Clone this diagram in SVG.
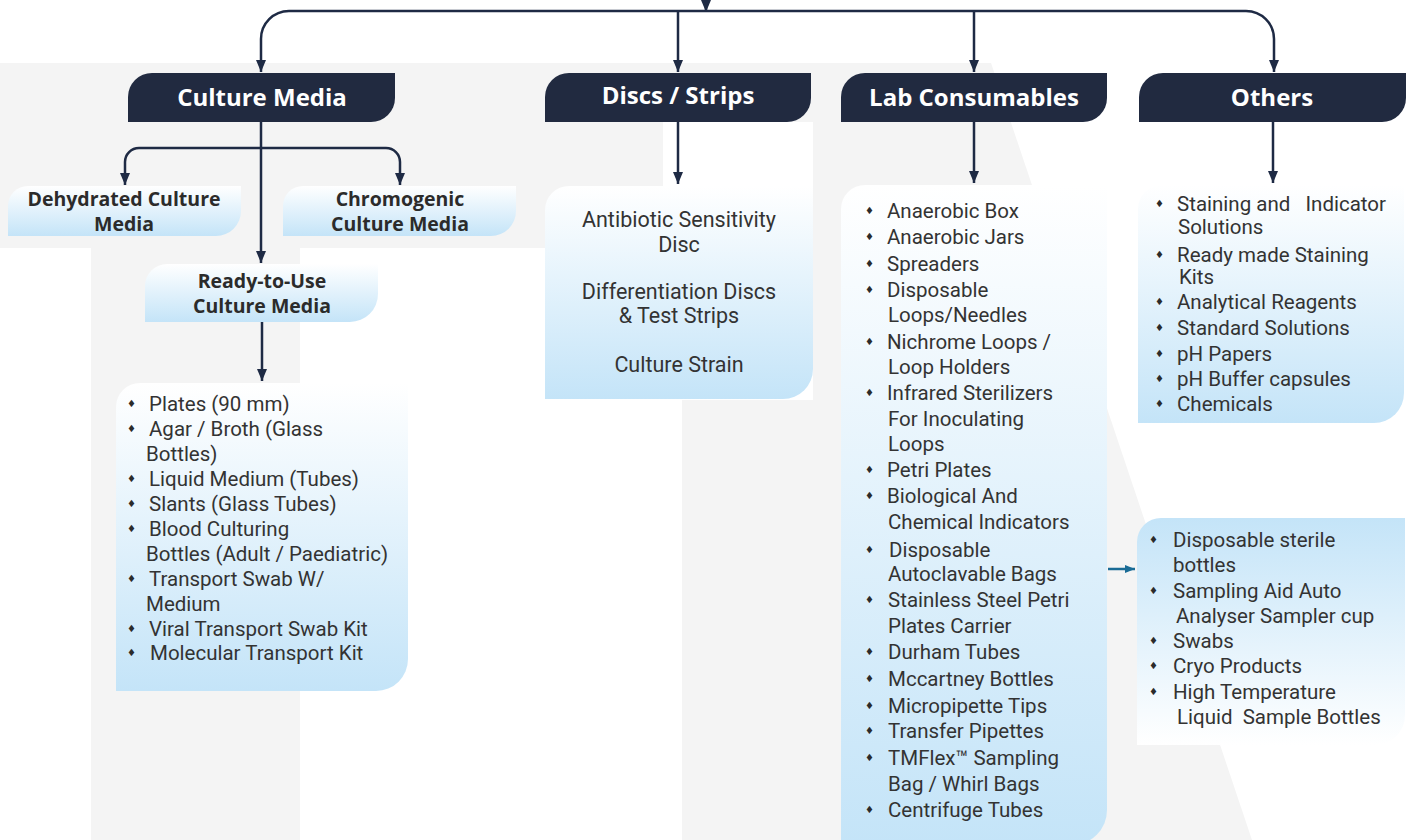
<svg xmlns="http://www.w3.org/2000/svg" width="1411" height="840" viewBox="0 0 1411 840">
<style>
.bg{fill:#f4f4f4}
.hdr{fill:#212a40}
.box{fill:url(#gDown)}
.boxr{fill:url(#gUp)}
.hd{font-family:"Open Sans","Liberation Sans",sans-serif;font-weight:700;font-size:24px;fill:#fff;text-anchor:middle}
.st{font-family:"Open Sans","Liberation Sans",sans-serif;font-weight:700;font-size:19.5px;fill:#2b2b2b;text-anchor:middle}
.li{font-family:Roboto,"Liberation Sans",sans-serif;font-size:20.5px;fill:#333;white-space:pre}
.ct{font-family:Roboto,"Liberation Sans",sans-serif;font-size:21.5px;fill:#333;text-anchor:middle}
.bu{font-family:"DejaVu Sans",sans-serif;font-size:10px;fill:#2b2b2b}
.con{fill:none;stroke:#1e2a44;stroke-width:2.5;marker-end:url(#ah)}
.conb{fill:none;stroke:#1a6b95;stroke-width:2.5;marker-end:url(#ahb)}
</style>
<defs>
<linearGradient id="gDown" x1="0" y1="0" x2="0" y2="1">
<stop offset="0" stop-color="#ffffff"/>
<stop offset="1" stop-color="#c4e4f8"/>
</linearGradient>
<linearGradient id="gUp" x1="0" y1="0" x2="0" y2="1">
<stop offset="0" stop-color="#c4e4f8"/>
<stop offset="1" stop-color="#ffffff"/>
</linearGradient>
<marker id="ah" viewBox="0 0 12 10" refX="12" refY="5" markerWidth="12" markerHeight="10" markerUnits="userSpaceOnUse" orient="auto">
<path d="M0,0 L12,5 L0,10 Z" fill="#1e2a44"/>
</marker>
<marker id="ahb" viewBox="0 0 10 8" refX="10" refY="4" markerWidth="10" markerHeight="8" markerUnits="userSpaceOnUse" orient="auto">
<path d="M0,0 L10,4 L0,8 Z" fill="#1a6b95"/>
</marker>
</defs>

<g id="background">
<path class="bg" d="M0,63 H663 V248 H300 V840 H91 V248 H0 Z"/>
<path class="bg" d="M663,63 H991 L1252,840 H682 V400 H813 V122 H663 Z"/>
</g>

<g id="connectors">
<path class="con" d="M706,-6 V12"/>
<path class="con" d="M706,11 H289 A28,28 0 0 0 261,39 V72"/>
<path class="con" d="M706,11 H1246 A28,28 0 0 1 1274,39 V72"/>
<path class="con" d="M678,11 V72"/>
<path class="con" d="M974,11 V72"/>
<path class="con" d="M261,122 V263"/>
<path class="con" d="M261,148 H139 A14,14 0 0 0 125,162 V185"/>
<path class="con" d="M261,148 H386 A14,14 0 0 1 400,162 V185"/>
<path class="con" d="M262,322 V381"/>
<path class="con" d="M678,122 V184"/>
<path class="con" d="M974,122 V183"/>
<path class="con" d="M1273,122 V183"/>
<path class="conb" d="M1108,569 H1135"/>
</g>

<g id="culture-media">
<path class="hdr" d="M128,122 V97 A24,24 0 0 1 152,73 H395 V98 A24,24 0 0 1 371,122 Z"/>
<text class="hd" x="262" y="106">Culture Media</text>
</g>

<g id="discs-strips">
<path class="hdr" d="M545,122 V97 A24,24 0 0 1 569,73 H811 V98 A24,24 0 0 1 787,122 Z"/>
<text class="hd" x="678" y="104">Discs / Strips</text>
</g>

<g id="lab-consumables">
<path class="hdr" d="M841,122 V97 A24,24 0 0 1 865,73 H1107 V98 A24,24 0 0 1 1083,122 Z"/>
<text class="hd" x="974" y="106">Lab Consumables</text>
</g>

<g id="others">
<path class="hdr" d="M1139,122 V97 A24,24 0 0 1 1163,73 H1406 V98 A24,24 0 0 1 1382,122 Z"/>
<text class="hd" x="1272" y="106">Others</text>
</g>

<g id="dehydrated">
<path class="box" d="M8,236 V206 A20,20 0 0 1 28,186 H241 V211 A25,25 0 0 1 216,236 Z"/>
<text class="st" x="124" y="206">Dehydrated Culture</text>
<text class="st" x="124" y="231">Media</text>
</g>

<g id="chromogenic">
<path class="box" d="M283,236 V206 A20,20 0 0 1 303,186 H516 V211 A25,25 0 0 1 491,236 Z"/>
<text class="st" x="400" y="206">Chromogenic</text>
<text class="st" x="400" y="231">Culture Media</text>
</g>

<g id="ready-to-use">
<path class="box" d="M145,322 V286 A22,22 0 0 1 167,264 H378 V294 A28,28 0 0 1 350,322 Z"/>
<text class="st" x="262" y="288">Ready-to-Use</text>
<text class="st" x="262" y="313">Culture Media</text>
</g>

<g id="rtu-list">
<path class="box" d="M116,691 V407 A24,24 0 0 1 140,383 H408 V659 A32,32 0 0 1 376,691 Z"/>
<text class="bu" x="127" y="407">♦</text><text class="li" x="149" y="411">Plates (90 mm)</text>
<text class="bu" x="127" y="432">♦</text><text class="li" x="149" y="436">Agar / Broth (Glass</text>
<text class="li" x="146" y="461">Bottles)</text>
<text class="bu" x="127" y="482">♦</text><text class="li" x="149" y="486">Liquid Medium (Tubes)</text>
<text class="bu" x="127" y="507">♦</text><text class="li" x="149" y="511">Slants (Glass Tubes)</text>
<text class="bu" x="127" y="532">♦</text><text class="li" x="149" y="536">Blood Culturing</text>
<text class="li" x="146" y="561">Bottles (Adult / Paediatric)</text>
<text class="bu" x="127" y="582">♦</text><text class="li" x="149" y="586">Transport Swab W/</text>
<text class="li" x="146" y="611">Medium</text>
<text class="bu" x="127" y="632">♦</text><text class="li" x="149" y="636">Viral Transport Swab Kit</text>
<text class="bu" x="127" y="656">♦</text><text class="li" x="150" y="660">Molecular Transport Kit</text>
</g>

<g id="discs-list">
<path class="box" d="M545,399 V210 A24,24 0 0 1 569,186 H813 V369 A30,30 0 0 1 783,399 Z"/>
<text class="ct" x="679" y="227">Antibiotic Sensitivity</text>
<text class="ct" x="679" y="252">Disc</text>
<text class="ct" x="679" y="299">Differentiation Discs</text>
<text class="ct" x="679" y="323">&amp; Test Strips</text>
<text class="ct" x="679" y="372">Culture Strain</text>
</g>

<g id="lab-list">
<path class="box" d="M841,845 V209 A24,24 0 0 1 865,185 H1107 V810 A35,35 0 0 1 1072,845 Z"/>
<text class="bu" x="865" y="214">♦</text><text class="li" x="887" y="218">Anaerobic Box</text>
<text class="bu" x="865" y="240">♦</text><text class="li" x="887" y="244">Anaerobic Jars</text>
<text class="bu" x="865" y="267">♦</text><text class="li" x="887" y="271">Spreaders</text>
<text class="bu" x="865" y="293">♦</text><text class="li" x="887" y="297">Disposable</text>
<text class="li" x="888" y="322">Loops/Needles</text>
<text class="bu" x="865" y="345">♦</text><text class="li" x="887" y="349">Nichrome Loops /</text>
<text class="li" x="888" y="374">Loop Holders</text>
<text class="bu" x="865" y="396">♦</text><text class="li" x="887" y="400">Infrared Sterilizers</text>
<text class="li" x="888" y="426">For Inoculating</text>
<text class="li" x="888" y="451">Loops</text>
<text class="bu" x="865" y="473">♦</text><text class="li" x="887" y="477">Petri Plates</text>
<text class="bu" x="865" y="499">♦</text><text class="li" x="887" y="503">Biological And</text>
<text class="li" x="888" y="529">Chemical Indicators</text>
<text class="bu" x="865" y="553">♦</text><text class="li" x="889" y="557">Disposable</text>
<text class="li" x="888" y="581">Autoclavable Bags</text>
<text class="bu" x="865" y="603">♦</text><text class="li" x="888" y="607">Stainless Steel Petri</text>
<text class="li" x="888" y="633">Plates Carrier</text>
<text class="bu" x="865" y="655">♦</text><text class="li" x="888" y="659">Durham Tubes</text>
<text class="bu" x="865" y="682">♦</text><text class="li" x="888" y="686">Mccartney Bottles</text>
<text class="bu" x="865" y="709">♦</text><text class="li" x="888" y="713">Micropipette Tips</text>
<text class="bu" x="865" y="734">♦</text><text class="li" x="888" y="738">Transfer Pipettes</text>
<text class="bu" x="865" y="761">♦</text><text class="li" x="888" y="765">TMFlex™ Sampling</text>
<text class="li" x="888" y="791">Bag / Whirl Bags</text>
<text class="bu" x="865" y="813">♦</text><text class="li" x="888" y="817">Centrifuge Tubes</text>
</g>

<g id="others-list">
<path class="box" d="M1138,423 V209 A24,24 0 0 1 1162,185 H1404 V393 A30,30 0 0 1 1374,423 Z"/>
<text class="bu" x="1155" y="207">♦</text><text class="li" x="1177" y="211">Staining and   Indicator</text>
<text class="li" x="1178" y="234">Solutions</text>
<text class="bu" x="1155" y="258">♦</text><text class="li" x="1177" y="262">Ready made Staining</text>
<text class="li" x="1179" y="284">Kits</text>
<text class="bu" x="1155" y="305">♦</text><text class="li" x="1177" y="309">Analytical Reagents</text>
<text class="bu" x="1155" y="331">♦</text><text class="li" x="1177" y="335">Standard Solutions</text>
<text class="bu" x="1155" y="357">♦</text><text class="li" x="1177" y="361">pH Papers</text>
<text class="bu" x="1155" y="382">♦</text><text class="li" x="1177" y="386">pH Buffer capsules</text>
<text class="bu" x="1155" y="407">♦</text><text class="li" x="1177" y="411">Chemicals</text>
</g>

<g id="sampling-list">
<path class="boxr" d="M1137,745 V542 A24,24 0 0 1 1161,518 H1405 V715 A30,30 0 0 1 1375,745 Z"/>
<text class="bu" x="1149" y="543">♦</text><text class="li" x="1173" y="547">Disposable sterile</text>
<text class="li" x="1173" y="572">bottles</text>
<text class="bu" x="1149" y="594">♦</text><text class="li" x="1173" y="598">Sampling Aid Auto</text>
<text class="li" x="1176" y="623">Analyser Sampler cup</text>
<text class="bu" x="1149" y="644">♦</text><text class="li" x="1173" y="648">Swabs</text>
<text class="bu" x="1149" y="669">♦</text><text class="li" x="1173" y="673">Cryo Products</text>
<text class="bu" x="1149" y="695">♦</text><text class="li" x="1173" y="699">High Temperature</text>
<text class="li" x="1177" y="724">Liquid  Sample Bottles</text>
</g>
</svg>
